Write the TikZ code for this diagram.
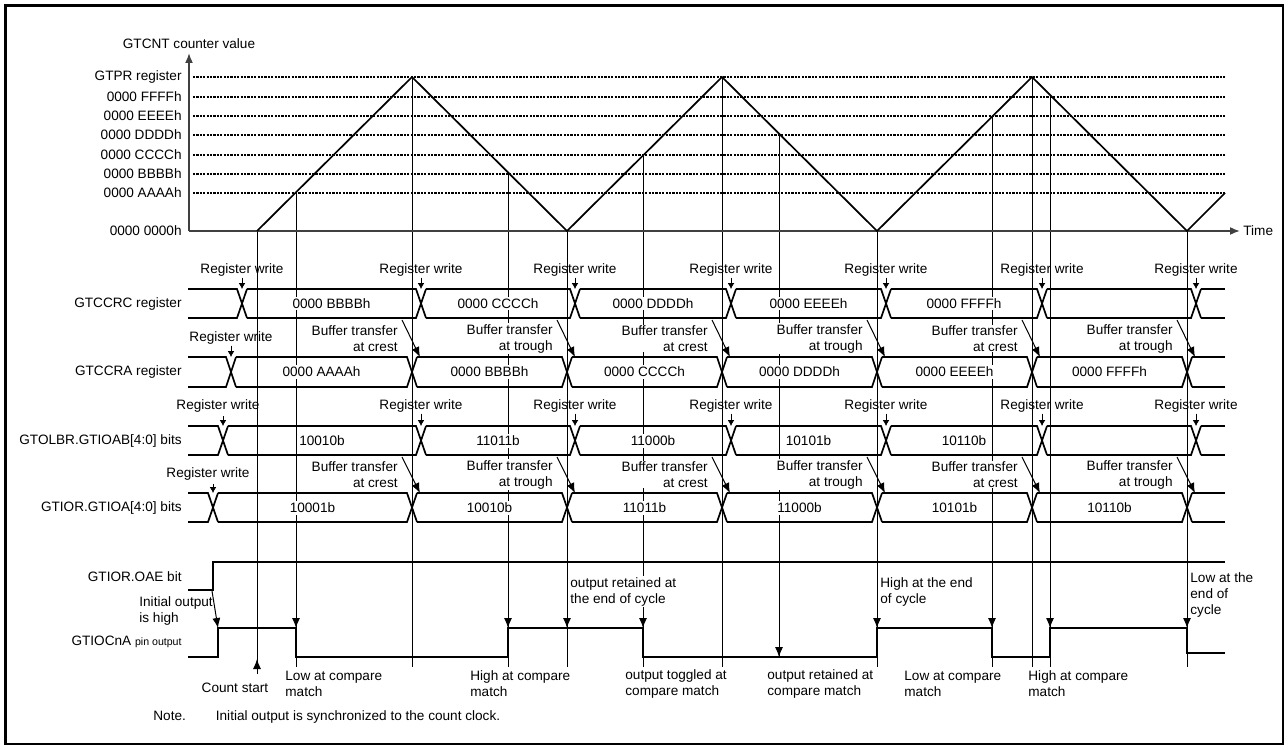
\documentclass[tikz,border=0pt]{standalone}
\usepackage{fontspec}
\setmainfont{Liberation Sans}
\usetikzlibrary{arrows.meta}

\tikzset{
    sig/.style={line width=0.85pt},
    guide/.style={line width=0.5pt},
    axis/.style={line width=0.85pt, black!75},
    level/.style={line width=1.25pt, dash pattern=on 1.1pt off 0.6pt},
    bigtip/.style={-{Latex[length=5pt,width=4pt]}},
    smalltip/.style={-{Latex[length=3pt,width=3.4pt]}},
    val/.style={fill=white, inner sep=1pt},
    txt/.style={inner sep=0.5pt},
    cmt/.style={align=left, anchor=west, inner sep=0.5pt},
    bufl/.style={align=right, anchor=east, inner sep=0.5pt, fill=white},
}

\begin{document}
\begin{tikzpicture}[x=0.5pt, y=-0.5pt, font=\fontsize{6.8pt}{8pt}\selectfont]
    \useasboundingbox (0,0) rectangle (1288,749);
    \draw[line width=1.2pt] (5,5) rectangle (1283,744);
    \draw[line width=1.2pt] (5.5,744) -- (5.5,5.5) -- (1283,5.5);

    % guide lines from the counter down to the pin output
    \foreach \x/\ya/\yb in {257/231/674, 296/193/667, 412/77/667, 508/174/667,
        567/231/667, 643/155/667, 722/77/667, 877/231/667, 992/116/667,
        1032/77/667, 1050/97/667, 1187/231/667, 779/135/657}
        \draw[guide] (\x,\ya) -- (\x,\yb);
    \foreach \x in {296,508,567,643,877,992,1050,1187}
        \draw[guide, bigtip] (\x,610) -- (\x,628);
    \draw[guide, bigtip] (779,640) -- (779,657);
    \draw[guide, bigtip] (257,674) -- (257,659);

    % counter axis and compare levels
    \coordinate (org) at (189,231);
    \draw[axis, bigtip] (org) -- (189,53);
    \draw[axis, bigtip] (org) -- (1240,231);
    \node[txt] (ylab) at (189,44) {GTCNT counter value};
    \node[txt, anchor=west] (tlab) at (1242,231) {Time};
    \node[txt, anchor=east] (lv0) at (183,231) {0000 0000h};
    \foreach \y/\t [count=\i] in {77/GTPR register, 97/0000 FFFFh, 116/0000 EEEEh,
        135/0000 DDDDh, 155/0000 CCCCh, 174/0000 BBBBh, 193/0000 AAAAh} {
        \draw[level] (193,\y) -- (1225,\y);
        \node[txt, anchor=east] (lv\i) at (183,\y) {\t};
    }
    % up/down count
    \draw[sig] (257,231) -- (412,77) -- (567,231) -- (722,77) -- (877,231)
        -- (1032,77) -- (1187,231) -- (1225,193);

    % GTCCRC register
    \def\rt{289}\def\rb{318}
    \node[txt, anchor=east] (ccrc) at (183,303.5) {GTCCRC register};
    \foreach \x [remember=\x as \px (initially 183)] in {242,421,575,731,886,1042,1196} {
        \draw[sig] (\px+5,\rt) -- (\x-5,\rt) -- (\x+5,\rb);
        \draw[sig] (\px+5,\rb) -- (\x-5,\rb) -- (\x+5,\rt);
        \node[txt] (ccrc-w\x) at (\x,270) {Register write};
        \draw[smalltip] (ccrc-w\x.south) -- (\x,\rt);
    }
    \draw[sig] (1201,\rt) -- (1225,\rt) (1201,\rb) -- (1225,\rb);
    \foreach \x/\v [count=\i] in {331.5/0000 BBBBh, 498/0000 CCCCh, 653/0000 DDDDh,
        808.5/0000 EEEEh, 964/0000 FFFFh}
        \node[val] (ccrc-v\i) at (\x,303.5) {\v};

    % GTCCRA register
    \def\rt{357}\def\rb{387}
    \node[txt, anchor=east] (ccra) at (183,372) {GTCCRA register};
    \foreach \x [remember=\x as \px (initially 183)] in {231,412,567,722,877,1032,1187} {
        \draw[sig] (\px+5,\rt) -- (\x-5,\rt) -- (\x+5,\rb);
        \draw[sig] (\px+5,\rb) -- (\x-5,\rb) -- (\x+5,\rt);
    }
    \draw[sig] (1192,\rt) -- (1225,\rt) (1192,\rb) -- (1225,\rb);
    \node[txt] (ccra-w) at (231,338) {Register write};
    \draw[smalltip] (ccra-w.south) -- (231,\rt);
    \foreach \x/\v [count=\i] in {321.5/0000 AAAAh, 489.5/0000 BBBBh, 644.5/0000 CCCCh,
        799.5/0000 DDDDh, 954.5/0000 EEEEh, 1109.5/0000 FFFFh}
        \node[val] (ccra-v\i) at (\x,372) {\v};
    \foreach \x/\w [count=\i] in {412/crest, 567/trough, 722/crest, 877/trough,
        1032/crest, 1187/trough} {
        \node[bufl] (ccra-b\i) at (\x-13,338.5) {Buffer transfer\\at \w};
        \draw[guide, bigtip] (\x-10,320) -- (\x+8,\rt);
    }

    % GTOLBR.GTIOAB[4:0] bits
    \def\rt{426}\def\rb{455}
    \node[txt, anchor=east] (olbr) at (183,440.5) {GTOLBR.GTIOAB[4:0] bits};
    \foreach \x [remember=\x as \px (initially 183)] in {223,421,575,731,886,1042,1196} {
        \draw[sig] (\px+5,\rt) -- (\x-5,\rt) -- (\x+5,\rb);
        \draw[sig] (\px+5,\rb) -- (\x-5,\rb) -- (\x+5,\rt);
    }
    \draw[sig] (1201,\rt) -- (1225,\rt) (1201,\rb) -- (1225,\rb);
    \node[txt] (olbr-w223) at (218,406) {Register write};
    \draw[smalltip] (223,416) -- (223,\rt);
    \foreach \x in {421,575,731,886,1042,1196} {
        \node[txt] (olbr-w\x) at (\x,406) {Register write};
        \draw[smalltip] (olbr-w\x.south) -- (\x,\rt);
    }
    \foreach \x/\v [count=\i] in {322/10010b, 498/11011b, 653/11000b,
        808.5/10101b, 964/10110b}
        \node[val] (olbr-v\i) at (\x,440.5) {\v};

    % GTIOR.GTIOA[4:0] bits
    \def\rt{493}\def\rb{522}
    \node[txt, anchor=east] (gtior) at (183,507.5) {GTIOR.GTIOA[4:0] bits};
    \foreach \x [remember=\x as \px (initially 183)] in {213,412,567,722,877,1032,1187} {
        \draw[sig] (\px+5,\rt) -- (\x-5,\rt) -- (\x+5,\rb);
        \draw[sig] (\px+5,\rb) -- (\x-5,\rb) -- (\x+5,\rt);
    }
    \draw[sig] (1192,\rt) -- (1225,\rt) (1192,\rb) -- (1225,\rb);
    \node[txt] (gtior-w) at (208,474) {Register write};
    \draw[smalltip] (213,484) -- (213,\rt);
    \foreach \x/\v [count=\i] in {312.5/10001b, 489.5/10010b, 644.5/11011b,
        799.5/11000b, 954.5/10101b, 1109.5/10110b}
        \node[val] (gtior-v\i) at (\x,507.5) {\v};
    \foreach \x/\w [count=\i] in {412/crest, 567/trough, 722/crest, 877/trough,
        1032/crest, 1187/trough} {
        \node[bufl] (gtior-b\i) at (\x-13,474.5) {Buffer transfer\\at \w};
        \draw[guide, bigtip] (\x-10,457) -- (\x+8,\rt);
    }

    % GTIOR.OAE bit
    \node[txt, anchor=east] (oae) at (183,577) {GTIOR.OAE bit};
    \draw[sig] (188,590) -- (213,590) -- (213,562) -- (1225,562);

    % GTIOCnA pin output
    \node[txt, anchor=east] (pin) at (183,642)
        {GTIOCnA {\fontsize{5.3pt}{6pt}\selectfont pin output}};
    \draw[sig] (188,657) -- (218,657) -- (218,628) -- (296,628) -- (296,657)
        -- (508,657) -- (508,628) -- (643,628) -- (643,657) -- (877,657)
        -- (877,628) -- (992,628) -- (992,657) -- (1050,657) -- (1050,628)
        -- (1187,628) -- (1187,653) -- (1225,653);
    \node[cmt] (init) at (138,610.5) {Initial output\\is high};
    \draw[guide, bigtip] (212,591) -- (218,628);

    % comments on the output
    \node[cmt, fill=white] (ret1) at (569,591.5) {output retained at\\the end of cycle};
    \node[cmt] (hiend) at (879,591.5) {High at the end\\of cycle};
    \node[cmt] (loend) at (1189,595) {Low at the\\end of\\cycle};
    \node[txt] (cstart) at (235,688) {Count start};
    \node[cmt] (cm1) at (284,684) {Low at compare\\match};
    \node[cmt] (cm2) at (469,684) {High at compare\\match};
    \node[cmt] (cm3) at (624,684) {output toggled at\\compare match};
    \node[cmt] (cm4) at (766,684) {output retained at\\compare match};
    \node[cmt] (cm5) at (903,684) {Low at compare\\match};
    \node[cmt] (cm6) at (1027,684) {High at compare\\match};

    \node[txt, anchor=west] (note) at (152,717)
        {Note.\hspace{15pt}Initial output is synchronized to the count clock.};
\end{tikzpicture}
\end{document}
